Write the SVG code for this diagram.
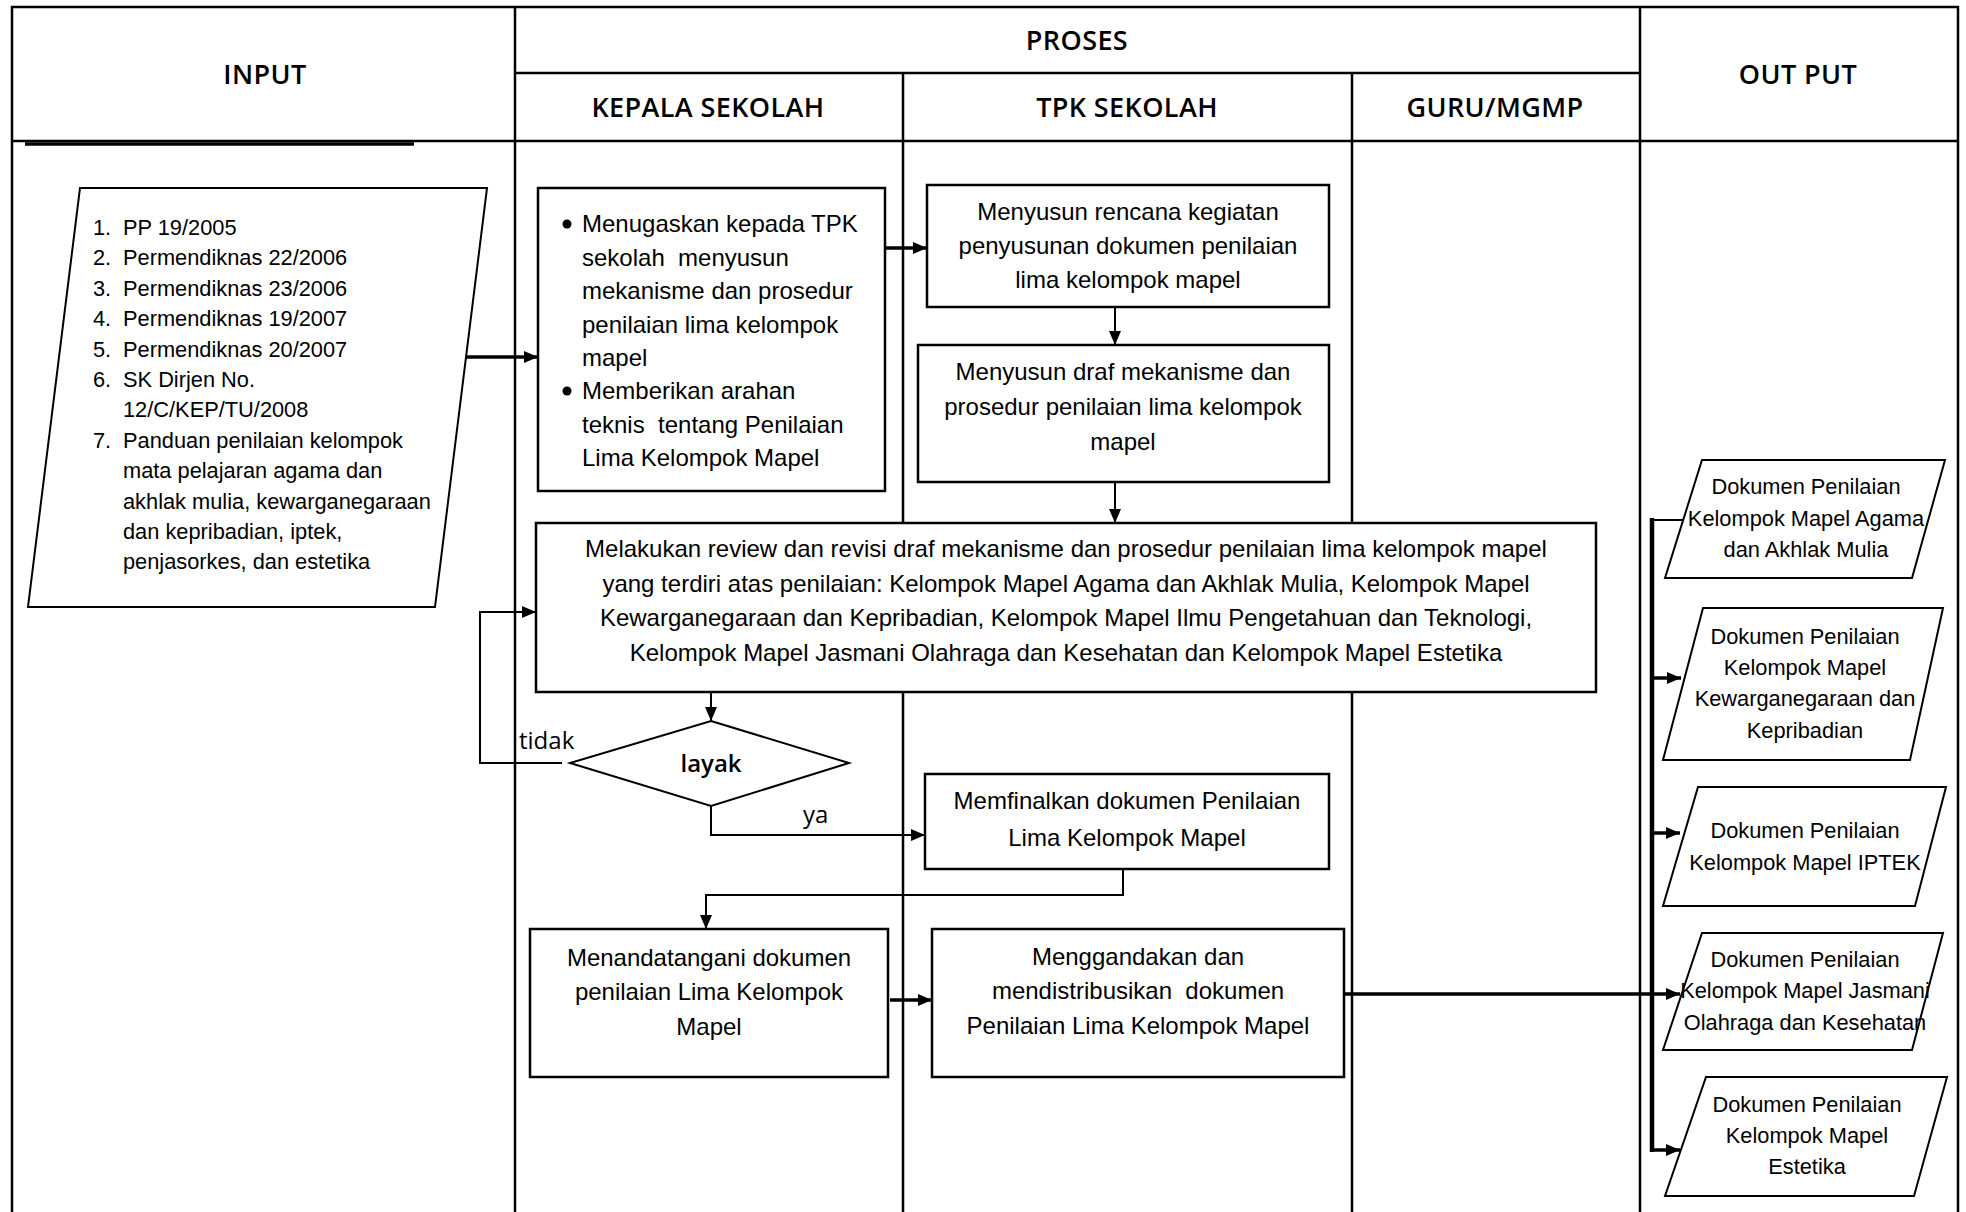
<svg xmlns="http://www.w3.org/2000/svg" width="1966" height="1212" viewBox="0 0 1966 1212">
<defs>
<marker id="ah" viewBox="0 0 14 12" refX="14" refY="6" markerWidth="14" markerHeight="12" markerUnits="userSpaceOnUse" orient="auto">
<path d="M0,0 L14,6 L0,12 Z" fill="#000"/>
</marker>
</defs>
<style>
.grid{stroke:#000;stroke-width:2.5;fill:none}
.box{stroke:#000;stroke-width:2.5;fill:#fff}
.io{stroke:#000;stroke-width:2;fill:#fff}
.hd{font-family:"Open Sans","Liberation Sans",sans-serif;font-weight:600;font-size:27px;letter-spacing:0.4px;text-anchor:middle;fill:#000}
.t{font-family:"Liberation Sans",Arial,sans-serif;font-size:24px;fill:#000}
.c{text-anchor:middle}
.s{font-family:"Liberation Sans",Arial,sans-serif;font-size:21.8px;fill:#000}
.lb{font-family:"Open Sans","Liberation Sans",sans-serif;font-size:24px;fill:#000}
.cn{stroke:#000;stroke-width:2;fill:none}
.ck{stroke:#000;stroke-width:3.5;fill:none}
</style>
<rect width="1966" height="1212" fill="#fff"/>
<g id="grid">
<path class="grid" d="M12,1212 V7 H1958 V1212"/>
<path class="grid" d="M515,7 V1212 M1640,7 V1212 M903,73 V1212 M1352,73 V1212 M515,73 H1640 M12,141 H1958"/>
<path stroke="#000" stroke-width="3.5" d="M25,144 H414"/>
<text class="hd" x="265" y="84">INPUT</text>
<text class="hd" x="1077" y="50">PROSES</text>
<text class="hd" x="708" y="117">KEPALA SEKOLAH</text>
<text class="hd" x="1127" y="117">TPK SEKOLAH</text>
<text class="hd" x="1495" y="117">GURU/MGMP</text>
<text class="hd" x="1798" y="84">OUT PUT</text>
</g>
<g id="input">
<polygon class="io" points="80,188 487,188 435,607 28,607"/>
<g class="s">
<text x="93" y="235">1.</text><text x="123" y="235">PP 19/2005</text>
<text x="93" y="265.4">2.</text><text x="123" y="265.4">Permendiknas 22/2006</text>
<text x="93" y="295.8">3.</text><text x="123" y="295.8">Permendiknas 23/2006</text>
<text x="93" y="326.2">4.</text><text x="123" y="326.2">Permendiknas 19/2007</text>
<text x="93" y="356.6">5.</text><text x="123" y="356.6">Permendiknas 20/2007</text>
<text x="93" y="387">6.</text><text x="123" y="387">SK Dirjen No.</text>
<text x="123" y="417.4">12/C/KEP/TU/2008</text>
<text x="93" y="447.8">7.</text><text x="123" y="447.8">Panduan penilaian kelompok</text>
<text x="123" y="478.2">mata pelajaran agama dan</text>
<text x="123" y="508.6">akhlak mulia, kewarganegaraan</text>
<text x="123" y="539">dan kepribadian, iptek,</text>
<text x="123" y="569.4">penjasorkes, dan estetika</text>
</g>
</g>
<g id="kepala1">
<rect class="box" x="538" y="188" width="347" height="303"/>
<circle cx="567" cy="224" r="4.5"/>
<circle cx="567" cy="391" r="4.5"/>
<g class="t">
<text x="582" y="232">Menugaskan kepada TPK</text>
<text x="582" y="265.5" xml:space="preserve">sekolah  menyusun</text>
<text x="582" y="299">mekanisme dan prosedur</text>
<text x="582" y="332.5">penilaian lima kelompok</text>
<text x="582" y="366">mapel</text>
<text x="582" y="399">Memberikan arahan</text>
<text x="582" y="432.5" xml:space="preserve">teknis  tentang Penilaian</text>
<text x="582" y="466">Lima Kelompok Mapel</text>
</g>
</g>
<g id="tpk1">
<rect class="box" x="927" y="185" width="402" height="122"/>
<g class="t c">
<text x="1128" y="220">Menyusun rencana kegiatan</text>
<text x="1128" y="254">penyusunan dokumen penilaian</text>
<text x="1128" y="288">lima kelompok mapel</text>
</g>
</g>
<g id="tpk2">
<rect class="box" x="918" y="345" width="411" height="137"/>
<g class="t c">
<text x="1123" y="380">Menyusun draf mekanisme dan</text>
<text x="1123" y="415">prosedur penilaian lima kelompok</text>
<text x="1123" y="450">mapel</text>
</g>
</g>
<g id="review">
<rect class="box" x="536" y="523" width="1060" height="169"/>
<g class="t c">
<text x="1066" y="557">Melakukan review dan revisi draf mekanisme dan prosedur penilaian lima kelompok mapel</text>
<text x="1066" y="592">yang terdiri atas penilaian: Kelompok Mapel Agama dan Akhlak Mulia, Kelompok Mapel</text>
<text x="1066" y="626">Kewarganegaraan dan Kepribadian, Kelompok Mapel Ilmu Pengetahuan dan Teknologi,</text>
<text x="1066" y="661">Kelompok Mapel Jasmani Olahraga dan Kesehatan dan Kelompok Mapel Estetika</text>
</g>
</g>
<g id="layak">
<polygon class="io" points="711,721 849,763 711,806 570,763"/>
<text class="lb" x="711" y="772" text-anchor="middle" font-weight="600">layak</text>
</g>
<g id="tpk3">
<rect class="box" x="925" y="774" width="404" height="95"/>
<g class="t c">
<text x="1127" y="809">Memfinalkan dokumen Penilaian</text>
<text x="1127" y="846">Lima Kelompok Mapel</text>
</g>
</g>
<g id="kepala2">
<rect class="box" x="530" y="929" width="358" height="148"/>
<g class="t c">
<text x="709" y="966">Menandatangani dokumen</text>
<text x="709" y="1000">penilaian Lima Kelompok</text>
<text x="709" y="1035">Mapel</text>
</g>
</g>
<g id="tpk4">
<rect class="box" x="932" y="929" width="412" height="148"/>
<g class="t c">
<text x="1138" y="965">Menggandakan dan</text>
<text x="1138" y="999" xml:space="preserve">mendistribusikan  dokumen</text>
<text x="1138" y="1034">Penilaian Lima Kelompok Mapel</text>
</g>
</g>
<g id="out1">
<polygon class="io" points="1702,460 1945,460 1912,578 1665,578"/>
<g class="s c">
<text x="1806" y="494">Dokumen Penilaian</text>
<text x="1806" y="526">Kelompok Mapel Agama</text>
<text x="1806" y="557">dan Akhlak Mulia</text>
</g>
</g>
<g id="out2">
<polygon class="io" points="1703,608 1943,608 1910,760 1663,760"/>
<g class="s c">
<text x="1805" y="644">Dokumen Penilaian</text>
<text x="1805" y="675">Kelompok Mapel</text>
<text x="1805" y="706">Kewarganegaraan dan</text>
<text x="1805" y="738">Kepribadian</text>
</g>
</g>
<g id="out3">
<polygon class="io" points="1698,787 1946,787 1915,906 1663,906"/>
<g class="s c">
<text x="1805" y="838">Dokumen Penilaian</text>
<text x="1805" y="870">Kelompok Mapel IPTEK</text>
</g>
</g>
<g id="out4">
<polygon class="io" points="1702,933 1943,933 1912,1050 1663,1050"/>
<g class="s c">
<text x="1805" y="967">Dokumen Penilaian</text>
<text x="1805" y="998">Kelompok Mapel Jasmani</text>
<text x="1805" y="1030">Olahraga dan Kesehatan</text>
</g>
</g>
<g id="out5">
<polygon class="io" points="1706,1077 1947,1077 1914,1196 1665,1196"/>
<g class="s c">
<text x="1807" y="1112">Dokumen Penilaian</text>
<text x="1807" y="1143">Kelompok Mapel</text>
<text x="1807" y="1174">Estetika</text>
</g>
</g>
<g id="connectors">
<path class="ck" d="M466,357 H538" marker-end="url(#ah)"/>
<path class="ck" d="M885,248 H927" marker-end="url(#ah)"/>
<path class="cn" d="M1115,307 V345" marker-end="url(#ah)"/>
<path class="cn" d="M1115,482 V523" marker-end="url(#ah)"/>
<path class="cn" d="M711,692 V721" marker-end="url(#ah)"/>
<path class="cn" d="M562,763 H480 V612 H536" marker-end="url(#ah)"/>
<path class="cn" d="M711,806 V835 H925" marker-end="url(#ah)"/>
<path class="cn" d="M1123,869 V895 H706 V929" marker-end="url(#ah)"/>
<path class="ck" d="M890,1000 H932" marker-end="url(#ah)"/>
<path class="ck" d="M1344,994 H1680" marker-end="url(#ah)"/>
<path stroke="#000" stroke-width="4.5" fill="none" d="M1652,518 V1152"/>
<path class="cn" d="M1652,520 H1683"/>
<path class="ck" d="M1652,678 H1681" marker-end="url(#ah)"/>
<path class="ck" d="M1652,833 H1680" marker-end="url(#ah)"/>
<path class="ck" d="M1652,1150 H1680" marker-end="url(#ah)"/>
<text class="lb" x="519" y="749">tidak</text>
<text class="lb" x="803" y="823">ya</text>
</g>
</svg>
